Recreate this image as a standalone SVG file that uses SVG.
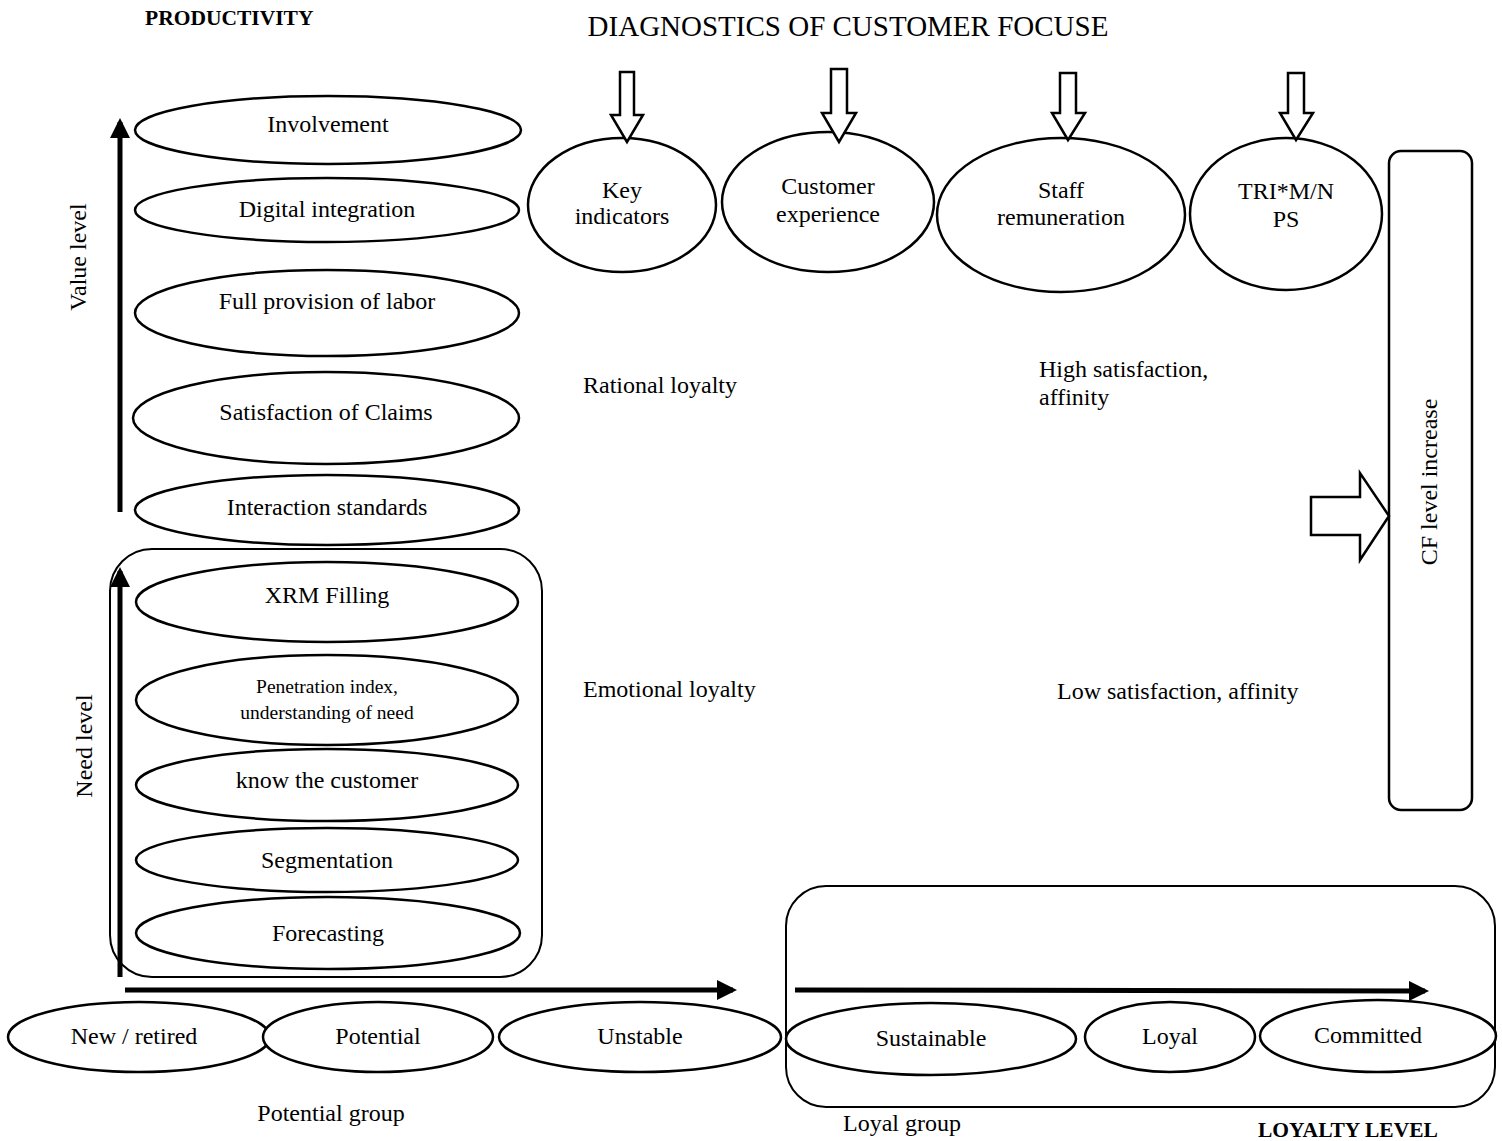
<svg xmlns="http://www.w3.org/2000/svg" width="1502" height="1141" viewBox="0 0 1502 1141">
<defs>
<style>
.n{fill:#fff;stroke:#000;stroke-width:2.5}
.t{font-family:"Liberation Serif","Times New Roman",serif;font-size:24px;fill:#000;text-anchor:middle}
.l{font-family:"Liberation Serif","Times New Roman",serif;font-size:24px;fill:#000}
.b{font-family:"Liberation Serif","Times New Roman",serif;font-size:21.5px;font-weight:bold;fill:#000}
.bar{stroke:#000;stroke-width:5;fill:none}
.blk{fill:#fff;stroke:#000;stroke-width:2.5;stroke-linejoin:miter}
</style>
<marker id="ah" viewBox="0 0 10 10" refX="8" refY="5" markerWidth="4" markerHeight="4" orient="auto" markerUnits="strokeWidth">
<path d="M0,0 L10,5 L0,10 z" fill="#000"/>
</marker>
</defs>
<rect width="1502" height="1141" fill="#fff"/>

<text class="b" x="145" y="25">PRODUCTIVITY</text>
<text class="l" x="848" y="36" style="font-size:29px" text-anchor="middle">DIAGNOSTICS OF CUSTOMER FOCUSE</text>

<g id="need-group"><rect class="n" x="110" y="549" width="432" height="428" rx="42" style="stroke-width:2"/></g>
<g id="loyal-group"><rect class="n" x="786" y="886" width="709" height="221" rx="40" style="stroke-width:2"/></g>

<g id="involvement"><ellipse class="n" cx="328" cy="130" rx="193" ry="34"/><text class="t" x="328" y="132">Involvement</text></g>
<g id="digital"><ellipse class="n" cx="327" cy="210" rx="192" ry="32"/><text class="t" x="327" y="217">Digital integration</text></g>
<g id="labor"><ellipse class="n" cx="327" cy="313" rx="192" ry="43"/><text class="t" x="327" y="309">Full provision of labor</text></g>
<g id="claims"><ellipse class="n" cx="326" cy="418" rx="193" ry="46"/><text class="t" x="326" y="420">Satisfaction of Claims</text></g>
<g id="interaction"><ellipse class="n" cx="327" cy="510" rx="192" ry="35"/><text class="t" x="327" y="515">Interaction standards</text></g>
<g id="xrm"><ellipse class="n" cx="327" cy="602" rx="191" ry="40"/><text class="t" x="327" y="603">XRM Filling</text></g>
<g id="penetration"><ellipse class="n" cx="327" cy="700" rx="191" ry="45"/><text class="t" x="327" y="693" style="font-size:19.5px">Penetration index,</text><text class="t" x="327" y="719" style="font-size:19.5px">understanding of need</text></g>
<g id="know"><ellipse class="n" cx="327" cy="785" rx="191" ry="36"/><text class="t" x="327" y="788">know the customer</text></g>
<g id="segmentation"><ellipse class="n" cx="327" cy="860" rx="191" ry="32"/><text class="t" x="327" y="868">Segmentation</text></g>
<g id="forecasting"><ellipse class="n" cx="328" cy="933" rx="192" ry="36"/><text class="t" x="328" y="941">Forecasting</text></g>

<g id="key"><ellipse class="n" cx="622" cy="205" rx="94" ry="67"/><text class="t" x="622" y="198">Key</text><text class="t" x="622" y="224">indicators</text></g>
<g id="cx"><ellipse class="n" cx="828" cy="202" rx="106" ry="70"/><text class="t" x="828" y="194">Customer</text><text class="t" x="828" y="222">experience</text></g>
<g id="staff"><ellipse class="n" cx="1061" cy="215" rx="124" ry="77"/><text class="t" x="1061" y="198">Staff</text><text class="t" x="1061" y="225">remuneration</text></g>
<g id="trim"><ellipse class="n" cx="1286" cy="214" rx="96" ry="76"/><text class="t" x="1286" y="199">TRI*M/N</text><text class="t" x="1286" y="227">PS</text></g>

<g id="cf"><rect class="n" x="1389" y="151" width="83" height="659" rx="12"/><text class="t" transform="translate(1437,482) rotate(-90)">CF level increase</text></g>

<g id="new"><ellipse class="n" cx="139" cy="1037" rx="131" ry="35"/><text class="t" x="134" y="1044">New / retired</text></g>
<g id="potential"><ellipse class="n" cx="378" cy="1037" rx="115" ry="35"/><text class="t" x="378" y="1044">Potential</text></g>
<g id="unstable"><ellipse class="n" cx="640" cy="1037" rx="141" ry="35"/><text class="t" x="640" y="1044">Unstable</text></g>
<g id="sustainable"><ellipse class="n" cx="931" cy="1039" rx="145" ry="36"/><text class="t" x="931" y="1046">Sustainable</text></g>
<g id="loyal"><ellipse class="n" cx="1170" cy="1037" rx="85" ry="35"/><text class="t" x="1170" y="1044">Loyal</text></g>
<g id="committed"><ellipse class="n" cx="1378" cy="1036" rx="118" ry="36"/><text class="t" x="1368" y="1043">Committed</text></g>

<g id="labels">
<text class="t" transform="translate(86,257) rotate(-90)">Value level</text>
<text class="t" transform="translate(92,746) rotate(-90)">Need level</text>
<text class="l" x="583" y="393">Rational loyalty</text>
<text class="l" x="1039" y="377">High satisfaction,</text>
<text class="l" x="1039" y="405">affinity</text>
<text class="l" x="583" y="697">Emotional loyalty</text>
<text class="l" x="1057" y="699">Low satisfaction, affinity</text>
<text class="t" x="331" y="1121">Potential group</text>
<text class="t" x="902" y="1131">Loyal group</text>
<text class="b" x="1258" y="1137">LOYALTY LEVEL</text>
</g>

<g id="connectors">
<line class="bar" x1="120" y1="512" x2="120" y2="122" marker-end="url(#ah)"/>
<line class="bar" x1="120" y1="977" x2="120" y2="571" marker-end="url(#ah)"/>
<line class="bar" x1="125" y1="990" x2="733" y2="990" marker-end="url(#ah)"/>
<line class="bar" x1="795" y1="990" x2="1425" y2="991" marker-end="url(#ah)"/>
<path class="blk" d="M620,72 L634,72 L634,115 L643,115 L627,142 L611,115 L620,115 Z"/>
<path class="blk" d="M831,69 L847,69 L847,113 L856,113 L839,142 L822,113 L831,113 Z"/>
<path class="blk" d="M1060,73 L1076,73 L1076,113 L1085,113 L1068,140 L1052,113 L1060,113 Z"/>
<path class="blk" d="M1288,73 L1304,73 L1304,113 L1313,113 L1296,140 L1280,113 L1288,113 Z"/>
<path class="blk" d="M1311,497 L1360,497 L1360,473 L1389,516 L1360,560 L1360,535 L1311,535 Z"/>
</g>
</svg>
